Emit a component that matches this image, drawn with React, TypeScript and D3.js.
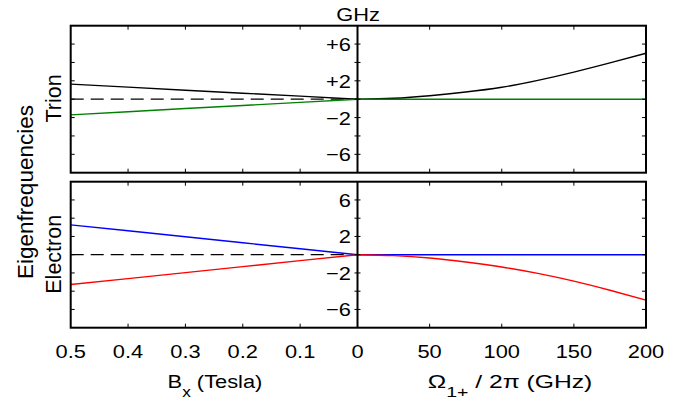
import React from "react";
import * as d3 from "d3";

const bxTicks = [0.5, 0.4, 0.3, 0.2, 0.1, 0];
const omTicks = [0, 50, 100, 150, 200];
const yTickVals = [-6, -4, -2, 0, 2, 4, 6];
const trionYLabels = [
  { v: 6, t: "+6" },
  { v: 2, t: "+2" },
  { v: -2, t: "\u22122" },
  { v: -6, t: "\u22126" },
];
const electronYLabels = [
  { v: 6, t: "6" },
  { v: 2, t: "2" },
  { v: -2, t: "\u22122" },
  { v: -6, t: "\u22126" },
];

// Left panels: B_x (Tesla)
const bx = [0.5, 0.4, 0.3, 0.2, 0.1, 0];
const trionUpperB = [1.64, 1.31, 0.98, 0.65, 0.33, 0];
const trionLowerB = [-1.71, -1.36, -1.02, -0.68, -0.34, 0];
const electronUpperB = [3.27, 2.62, 1.96, 1.31, 0.65, 0];
const electronLowerB = [-3.27, -2.62, -1.96, -1.31, -0.65, 0];

// Right panels: Omega / 2pi (GHz)
const om = [0, 25, 50, 75, 100, 125, 150, 175, 200];
const trionUpperO = [0, 0.1, 0.38, 0.78, 1.3, 2.05, 2.95, 3.95, 5.0];
const trionLowerO = [0, 0, 0, 0, 0, 0, 0, 0, 0];
const electronUpperO = [0, 0, 0, 0, 0, 0, 0, 0, 0];
const electronLowerO = [0, -0.1, -0.36, -0.8, -1.35, -2.05, -2.9, -3.9, -4.98];

const W = 681;
const H = 401;
const X0 = 70.7;
const XM = 357.5;
const X1 = 646;
const panels = [
  { top: 25.7, bottom: 172.7 },
  { top: 181.7, bottom: 327.7 },
];

const FONT = "'Liberation Sans', Arial, Helvetica, sans-serif";
const SX = 1.15;

function T({ x, y, anchor = "middle", size = 19, children }: any) {
  return (
    <g transform={`translate(${x},${y}) scale(${SX},1)`}>
      <text x={0} y={0} textAnchor={anchor} fontSize={size} fontFamily={FONT} fill="#000">
        {children}
      </text>
    </g>
  );
}

export default function App() {
  const xL = d3.scaleLinear().domain([0.5, 0]).range([X0, XM]);
  const xR = d3.scaleLinear().domain([0, 200]).range([XM, X1]);
  const ys = panels.map((p) => d3.scaleLinear().domain([-8, 8]).range([p.bottom, p.top]));

  const lineL = (y: any, vals: number[]) =>
    d3
      .line<number>()
      .x((_, i) => xL(bx[i]))
      .y((d) => y(d))(vals) as string;
  const lineR = (y: any, vals: number[]) =>
    d3
      .line<number>()
      .x((_, i) => xR(om[i]))
      .y((d) => y(d))
      .curve(d3.curveNatural)(vals) as string;

  const series = [
    [
      { l: trionUpperB, r: trionUpperO, c: "#000000" },
      { l: trionLowerB, r: trionLowerO, c: "#008000" },
    ],
    [
      { l: electronUpperB, r: electronUpperO, c: "#0000ff" },
      { l: electronLowerB, r: electronLowerO, c: "#ff0000" },
    ],
  ];

  const tl = 4;

  return (
    <svg width={W} height={H} style={{ position: "absolute", left: 0, top: 0, background: "#fff" }}>
      {panels.map((p, pi) => {
        const y = ys[pi];
        const labels = pi === 0 ? trionYLabels : electronYLabels;
        return (
          <g key={pi}>
            <line x1={X0} x2={XM} y1={y(0)} y2={y(0)} stroke="#000" strokeWidth={1.3} strokeDasharray="13,7" />
            {series[pi].map((s, si) => (
              <g key={si}>
                <path d={lineL(y, s.l)} fill="none" stroke={s.c} strokeWidth={1.4} />
                <path d={lineR(y, s.r)} fill="none" stroke={s.c} strokeWidth={1.4} />
              </g>
            ))}
            <rect x={X0} y={p.top} width={X1 - X0} height={p.bottom - p.top} fill="none" stroke="#000" strokeWidth={2} />
            <line x1={XM} x2={XM} y1={p.top} y2={p.bottom} stroke="#000" strokeWidth={2} />
            {yTickVals.map((v) => (
              <g key={v}>
                <line x1={X0} x2={X0 + tl} y1={y(v)} y2={y(v)} stroke="#000" strokeWidth={1} />
                <line x1={XM - 3} x2={XM + 3} y1={y(v)} y2={y(v)} stroke="#000" strokeWidth={1} />
                <line x1={X1 - tl} x2={X1} y1={y(v)} y2={y(v)} stroke="#000" strokeWidth={1} />
              </g>
            ))}
            {bxTicks.slice(1, -1).map((v) => (
              <g key={"b" + v}>
                <line x1={xL(v)} x2={xL(v)} y1={p.top} y2={p.top + tl} stroke="#000" strokeWidth={1} />
                <line x1={xL(v)} x2={xL(v)} y1={p.bottom} y2={p.bottom - tl} stroke="#000" strokeWidth={1} />
              </g>
            ))}
            {omTicks.slice(1, -1).map((v) => (
              <g key={"o" + v}>
                <line x1={xR(v)} x2={xR(v)} y1={p.top} y2={p.top + tl} stroke="#000" strokeWidth={1} />
                <line x1={xR(v)} x2={xR(v)} y1={p.bottom} y2={p.bottom - tl} stroke="#000" strokeWidth={1} />
              </g>
            ))}
            {labels.map((l) => (
              <T key={l.t} x={351} y={y(l.v) + 7} anchor="end">
                {l.t}
              </T>
            ))}
          </g>
        );
      })}

      {bxTicks.map((v) => (
        <T key={"bl" + v} x={xL(v)} y={357.5}>
          {v === 0 ? "0" : String(v)}
        </T>
      ))}
      {omTicks.slice(1).map((v) => (
        <T key={"ol" + v} x={xR(v)} y={357.5}>
          {String(v)}
        </T>
      ))}

      <T x={358} y={20.5}>GHz</T>

      <g transform={`translate(215,388) scale(${SX},1)`}>
        <text textAnchor="middle" fontSize={19} fontFamily={FONT}>
          B<tspan fontSize={15} dy={9}>x</tspan>
          <tspan dy={-9}> (Tesla)</tspan>
        </text>
      </g>
      <g transform={`translate(510,388) scale(1.3,1)`}>
        <text textAnchor="middle" fontSize={19} fontFamily={FONT}>
          Ω<tspan fontSize={15} dy={9}>1+</tspan>
          <tspan dy={-9}> / 2π (GHz)</tspan>
        </text>
      </g>

      <text transform="translate(61,98.5) rotate(-90)" textAnchor="middle" fontSize={21.5} fontFamily={FONT}>
        Trion
      </text>
      <text transform="translate(61,254.3) rotate(-90)" textAnchor="middle" fontSize={21.5} fontFamily={FONT}>
        Electron
      </text>
      <text transform="translate(33,192) rotate(-90)" textAnchor="middle" fontSize={22.5} fontFamily={FONT}>
        Eigenfrequencies
      </text>
    </svg>
  );
}
